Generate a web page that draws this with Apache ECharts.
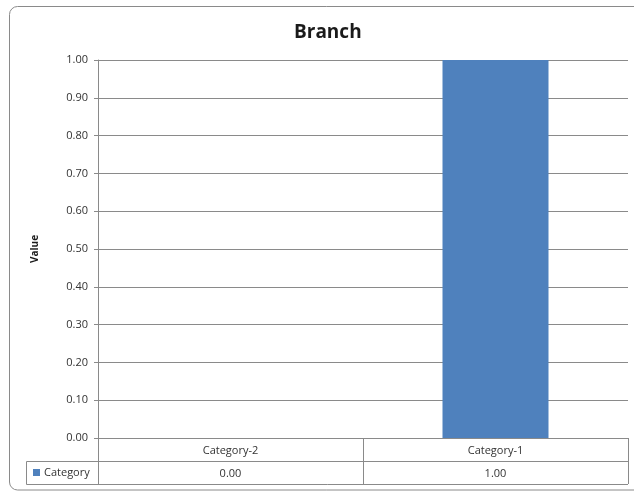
<!DOCTYPE html>
<html><head><meta charset="utf-8">
<script src="https://cdn.jsdelivr.net/npm/echarts@6/dist/echarts.min.js"></script>
<style>html,body{margin:0;padding:0;background:#fff}#c{width:634px;height:493px}</style>
</head><body><div id="c"></div>
<script>
const categories = ['Category-2', 'Category-1'];
const values = [0.00, 1.00];
const seriesName = 'Category';
const titleText = 'Branch';
const yAxisName = 'Value';

const chart = echarts.init(document.getElementById('c'), null, {renderer: 'canvas'});
const font = '"Open Sans", "DejaVu Sans", sans-serif';
const lineColor = '#8a8a8a';
chart.setOption({
  animation: false,
  title: {text: titleText, left: 289, top: 18, textStyle: {fontFamily: font, fontSize: 19, fontWeight: 'bold', color: '#1a1a1a'}},
  grid: {left: 98, right: 6, top: 60, bottom: 55},
  xAxis: [{
    type: 'category', data: categories, position: 'bottom',
    axisLine: {show: true, lineStyle: {color: lineColor}},
    axisTick: {show: true, length: 46, lineStyle: {color: lineColor}},
    axisLabel: {margin: 7, fontFamily: font, fontSize: 11, color: '#333'}
  }, {
    type: 'category', data: values.map(v => v.toFixed(2)), position: 'bottom', offset: 23,
    axisLine: {show: true, lineStyle: {color: lineColor}},
    axisTick: {show: false},
    axisLabel: {margin: 7, fontFamily: font, fontSize: 11, color: '#333'}
  }],
  yAxis: {
    type: 'value', min: 0, max: 1, interval: 0.1,
    name: yAxisName, nameLocation: 'middle', nameGap: 58, nameRotate: 90,
    nameTextStyle: {fontFamily: font, fontSize: 10, fontWeight: 'bold', color: '#1a1a1a'},
    axisLine: {show: true, lineStyle: {color: lineColor}},
    axisTick: {show: true, length: 4, lineStyle: {color: lineColor}},
    axisLabel: {margin: 10, formatter: v => v.toFixed(2), fontFamily: font, fontSize: 11, color: '#333'},
    splitLine: {show: true, lineStyle: {color: lineColor}}
  },
  series: [{
    name: seriesName, type: 'bar', data: values, barWidth: '40%', xAxisIndex: 0,
    itemStyle: {color: '#4F81BD'}
  }],
  graphic: [
    {type: 'rect', shape: {x: 9.5, y: 6.5, width: 640, height: 483.5, r: 8}, style: {fill: null, stroke: '#8a8a8a', lineWidth: 1}, z: -1},
    {type: 'line', shape: {x1: 26.5, y1: 461.5, x2: 98, y2: 461.5}, style: {stroke: lineColor, lineWidth: 1}},
    {type: 'line', shape: {x1: 26.5, y1: 484.5, x2: 628, y2: 484.5}, style: {stroke: lineColor, lineWidth: 1}},
    {type: 'line', shape: {x1: 26.5, y1: 461.5, x2: 26.5, y2: 484.5}, style: {stroke: lineColor, lineWidth: 1}},
    {type: 'rect', shape: {x: 33, y: 469, width: 7, height: 7}, style: {fill: '#4F81BD'}},
    {type: 'text', style: {x: 44, y: 473, text: seriesName, font: '11px ' + font, fill: '#333', textVerticalAlign: 'middle'}}
  ]
});
</script></body></html>
